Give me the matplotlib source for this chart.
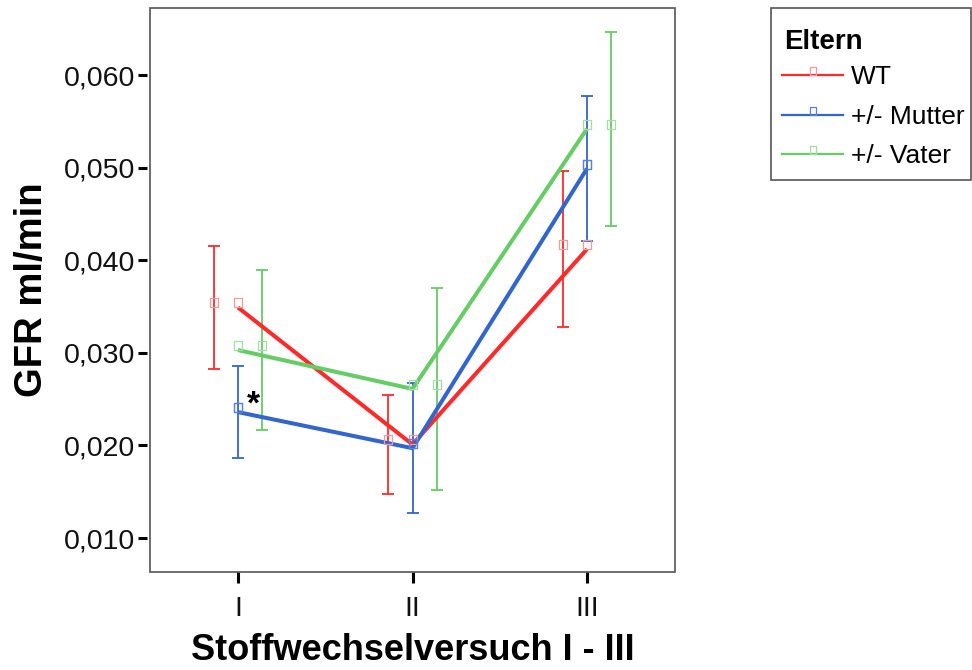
import matplotlib
matplotlib.use('Agg')
import matplotlib.pyplot as plt
import numpy as np
from matplotlib.lines import Line2D
from matplotlib.patches import Rectangle
from matplotlib.path import Path
from matplotlib.ticker import FuncFormatter

plt.rcParams['font.family'] = ['Liberation Sans', 'DejaVu Sans']

sessions = ['I', 'II', 'III']
groups = ['WT', '+/- Mutter', '+/- Vater']

wt_mean = [0.0349, 0.0201, 0.0412]
wt_err = [0.0066, 0.0053, 0.0084]
mutter_mean = [0.0236, 0.0197, 0.0499]
mutter_err = [0.0050, 0.0070, 0.0078]
vater_mean = [0.0303, 0.0261, 0.0542]
vater_err = [0.0086, 0.0109, 0.0105]

line_colors = ['#FF2B2B', '#3366CC', '#66CC66']
marker_colors = ['#F49A9A', '#5A82D4', '#A6DDA6']
offsets = [-0.14, 0.0, 0.14]

# open square that sits on top of its anchor point (SPSS style)
sq = Path([(-0.4, 0), (0.4, 0), (0.4, 1), (-0.4, 1), (-0.4, 0)],
          [Path.MOVETO, Path.LINETO, Path.LINETO, Path.LINETO, Path.CLOSEPOLY])

fig = plt.figure(figsize=(9.72, 6.7), dpi=100)
fig.patch.set_facecolor('white')
ax = fig.add_axes([150 / 972, 1 - 572 / 670, 525 / 972, 564 / 670])

x = np.arange(len(sessions))
means = [wt_mean, mutter_mean, vater_mean]
errs = [wt_err, mutter_err, vater_err]

for m, e, lc, mc, off in zip(means, errs, line_colors, marker_colors, offsets):
    ax.errorbar(x + off, m, yerr=e, fmt='none', ecolor=lc, elinewidth=1.3,
                capsize=4, capthick=1.3, zorder=2)
    ax.plot(x, m, color=lc, lw=2.9, solid_capstyle='butt', zorder=3)
    ax.plot(x + off, m, ls='none', marker=sq, ms=13, mfc='none', mec=mc,
            mew=0.9, zorder=4)
    ax.plot(x, m, ls='none', marker=sq, ms=13, mfc='none', mec=mc,
            mew=0.9, zorder=4)

ax.text(0.086, 0.0234, '*', fontsize=24, fontweight='bold', ha='center',
        va='baseline', color='black', zorder=5)

ax.set_xlim(-0.504, 2.504)
ax.set_ylim(0.00633, 0.06724)
ax.set_xticks(x)
ax.set_xticklabels(sessions)
ax.set_yticks([0.01, 0.02, 0.03, 0.04, 0.05, 0.06])
ax.yaxis.set_major_formatter(FuncFormatter(lambda v, p: f'{v:.3f}'.replace('.', ',')))

for s in ax.spines.values():
    s.set_visible(False)
ax.spines['left'].set_position(('outward', 2))
ax.add_patch(Rectangle((0, 0), 1, 1, transform=ax.transAxes, fill=False,
                       edgecolor='#555555', lw=1.2, zorder=6, clip_on=False))

ax.tick_params(axis='y', length=6.5, width=2.2, color='black', pad=2,
               labelsize=20.5, labelcolor='#111111')
ax.tick_params(axis='x', length=8, width=2.2, color='black', pad=9,
               labelsize=20.5, labelcolor='#111111')

ax.set_ylabel('GFR ml/min', fontsize=27.5, fontweight='bold', labelpad=10)
ax.set_xlabel('Stoffwechselversuch I - III', fontsize=26, fontweight='bold',
              labelpad=8.5)

# legend box with its title
fig.patches.append(Rectangle((771 / 972, 1 - 180 / 670), 200 / 972, 172 / 670,
                             transform=fig.transFigure, fill=False,
                             edgecolor='#555555', lw=1.2))
fig.text(784 / 972, 1 - 49 / 670, 'Eltern', fontsize=20, fontweight='bold',
         ha='left', va='baseline')
handles = [Line2D([], [], color=lc, lw=1.6, marker=sq, ms=11, mfc='none',
                  mec=mc, mew=0.9)
           for lc, mc in zip(line_colors, marker_colors)]
leg = fig.legend(handles, groups, loc='upper left',
                 bbox_to_anchor=(764 / 972, 1 - 47 / 670),
                 bbox_transform=fig.transFigure, frameon=False,
                 fontsize=19, handlelength=2.3, handletextpad=0.3,
                 labelspacing=0.58, borderpad=0.2, numpoints=1)

fig.savefig('out.png', dpi=100, facecolor='white')
